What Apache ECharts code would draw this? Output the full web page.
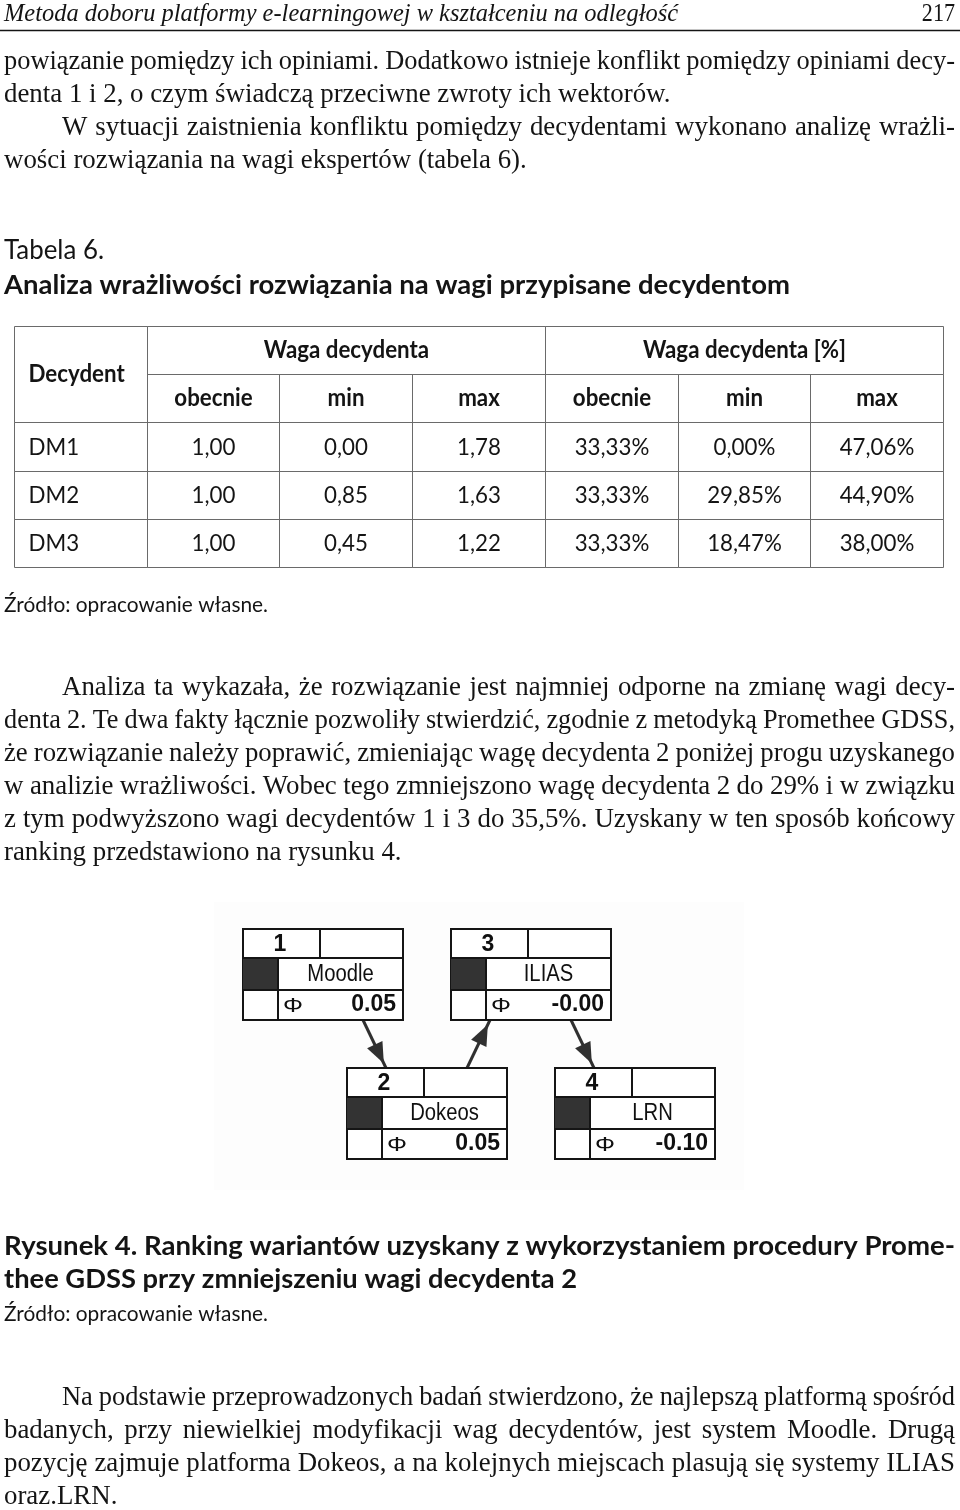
<!DOCTYPE html>
<html><head><meta charset="utf-8">
<script src="https://cdn.jsdelivr.net/npm/echarts@6/dist/echarts.min.js"></script>
<style>html,body{margin:0;padding:0;background:#fff}#main{width:960px;height:1510px}</style>
</head><body><div id="main"></div>
<script>
// ---------- content ----------
const runningHead = 'Metoda doboru platformy e-learningowej w kształceniu na odległość';
const pageNumber = '217';
const paragraph1 = [
  'powiązanie pomiędzy ich opiniami. Dodatkowo istnieje konflikt pomiędzy opiniami decy-',
  'denta 1 i 2, o czym świadczą przeciwne zwroty ich wektorów.',
  'W sytuacji zaistnienia konfliktu pomiędzy decydentami wykonano analizę wrażli-',
  'wości rozwiązania na wagi ekspertów (tabela 6).'
];
const tableLabel = 'Tabela 6.';
const tableTitle = 'Analiza wrażliwości rozwiązania na wagi przypisane decydentom';
const sourceNote = 'Źródło: opracowanie własne.';
const paragraph2 = [
  'Analiza ta wykazała, że rozwiązanie jest najmniej odporne na zmianę wagi decy-',
  'denta 2. Te dwa fakty łącznie pozwoliły stwierdzić, zgodnie z metodyką Promethee GDSS,',
  'że rozwiązanie należy poprawić, zmieniając wagę decydenta 2 poniżej progu uzyskanego',
  'w analizie wrażliwości. Wobec tego zmniejszono wagę decydenta 2 do 29% i w związku',
  'z tym podwyższono wagi decydentów 1 i 3 do 35,5%. Uzyskany w ten sposób końcowy',
  'ranking przedstawiono na rysunku 4.'
];
const figureCaption = [
  'Rysunek 4. Ranking wariantów uzyskany z wykorzystaniem procedury Prome-',
  'thee GDSS przy zmniejszeniu wagi decydenta 2'
];
const paragraph3 = [
  'Na podstawie przeprowadzonych badań stwierdzono, że najlepszą platformą spośród',
  'badanych, przy niewielkiej modyfikacji wag decydentów, jest system Moodle. Drugą',
  'pozycję zajmuje platforma Dokeos, a na kolejnych miejscach plasują się systemy ILIAS',
  'oraz.LRN.'
];

// table data
const rowHeader = 'Decydent';
const groupHeaders = ['Waga decydenta', 'Waga decydenta [%]'];
const subHeaders = ['obecnie', 'min', 'max', 'obecnie', 'min', 'max'];
const decisionMakers = ['DM1', 'DM2', 'DM3'];
const weightCurrent = [1.00, 1.00, 1.00];
const weightMin = [0.00, 0.85, 0.45];
const weightMax = [1.78, 1.63, 1.22];
const shareCurrent = [33.33, 33.33, 33.33];
const shareMin = [0.00, 29.85, 18.47];
const shareMax = [47.06, 44.90, 38.00];

// ranking diagram data
const rankPositions = [1, 2, 3, 4];
const platforms = ['Moodle', 'Dokeos', 'ILIAS', 'LRN'];
const phiLabels = ['0.05', '0.05', '-0.00', '-0.10'];
const rankingLinks = [[1, 2], [2, 3], [3, 4]];

// ---------- helpers ----------
const INK = '#141414';
const SERIF = '"Liberation Serif", serif';
const SANS = 'Lato, "Liberation Sans", sans-serif';
const mctx = document.createElement('canvas').getContext('2d');
function measure(text, font) { mctx.font = font; return mctx.measureText(text).width; }
function txt(text, x, y, font, extra, align) {
  const a = align || 'left';
  return Object.assign({ type: 'text', x: x, y: y, silent: true,
    style: { text: text, font: font, fill: INK, textAlign: a, align: a,
             textVerticalAlign: 'middle', verticalAlign: 'middle' } }, extra || {});
}
function fitLine(text, x0, x1, y, font) {
  const w = measure(text, font);
  return txt(text, x0, y, font, { scaleX: (x1 - x0) / w });
}
const fmt = v => v.toFixed(2).replace('.', ',');
const pct = v => v.toFixed(2).replace('.', ',') + '%';

// body paragraphs: words placed with a common condensation and justified spacing
const BODY_FONT = '27px ' + SERIF;
const condense = (
  661 / measure(paragraph1[1], BODY_FONT) +
  516 / measure(paragraph1[3], BODY_FONT) +
  406 / measure(paragraph2[5], BODY_FONT)) / 3;
const spaceRaw = measure(' ', BODY_FONT);
function paragraphLines(lines, layout) {
  const els = [];
  lines.forEach((line, i) => {
    const L = layout[i];
    const words = line.split(' ');
    const raw = words.map(w => measure(w, BODY_FONT));
    const rawTotal = raw.reduce((a, b) => a + b, 0);
    let s = condense;
    let gap = spaceRaw * s;
    if (L.justify && words.length > 1) {
      const target = L.x1 - L.x0;
      const minGap = spaceRaw * condense * 0.9;
      if (rawTotal * s + minGap * (words.length - 1) > target) {
        s = (target - minGap * (words.length - 1)) / rawTotal;
      }
      gap = (target - rawTotal * s) / (words.length - 1);
    }
    let x = L.x0;
    words.forEach((w, k) => {
      els.push(txt(w, x, L.y, BODY_FONT, { scaleX: s }));
      x += raw[k] * s + gap;
    });
  });
  return els;
}

const graphics = [];
// faint backdrop of the embedded screenshot
graphics.push({ type: 'rect', silent: true, z: -10, shape: { x: 214, y: 902, width: 530, height: 288 }, style: { fill: '#fdfdfd' } });
const headFont = 'italic 26px ' + SERIF;
graphics.push(fitLine(runningHead, 4, 678, 14, headFont));
graphics.push(txt(pageNumber, 955, 14, '26px ' + SERIF, { scaleX: 0.85 }, 'right'));
graphics.push({ type: 'line', silent: true, shape: { x1: 0, y1: 30.5, x2: 960, y2: 30.5 }, style: { stroke: INK, lineWidth: 1.6 } });

graphics.push(...paragraphLines(paragraph1, [
  { x0: 4, x1: 955, y: 62, justify: true },
  { x0: 4, y: 95 },
  { x0: 62, x1: 955, y: 128, justify: true },
  { x0: 4, y: 161 }
]));
graphics.push(fitLine(tableLabel, 4, 104, 251, '26px ' + SANS));
graphics.push(fitLine(tableTitle, 4, 790, 285, 'bold 27px ' + SANS));
graphics.push(fitLine(sourceNote, 4, 268, 605, '21px ' + SANS));
graphics.push(...paragraphLines(paragraph2, [
  { x0: 62, x1: 955, y: 688, justify: true },
  { x0: 4, x1: 955, y: 721, justify: true },
  { x0: 4, x1: 955, y: 754, justify: true },
  { x0: 4, x1: 955, y: 787, justify: true },
  { x0: 4, x1: 955, y: 820, justify: true },
  { x0: 4, y: 853 }
]));
graphics.push(fitLine(figureCaption[0], 4, 955, 1246, 'bold 27px ' + SANS));
graphics.push(fitLine(figureCaption[1], 4, 577, 1279, 'bold 27px ' + SANS));
graphics.push(fitLine(sourceNote, 4, 268, 1314, '21px ' + SANS));
graphics.push(...paragraphLines(paragraph3, [
  { x0: 62, x1: 955, y: 1398, justify: true },
  { x0: 4, x1: 955, y: 1431, justify: true },
  { x0: 4, x1: 955, y: 1464, justify: true },
  { x0: 4, y: 1497 }
]));

// ---------- table cells ----------
const cells = [];
cells.push({ c: 0, r: 0, cs: 1, rs: 2, text: rowHeader, bold: true, left: true });
groupHeaders.forEach((t, i) => cells.push({ c: 1 + i * 3, r: 0, cs: 3, rs: 1, text: t, bold: true }));
subHeaders.forEach((t, i) => cells.push({ c: 1 + i, r: 1, cs: 1, rs: 1, text: t, bold: true }));
decisionMakers.forEach((dm, i) => {
  const row = 2 + i;
  cells.push({ c: 0, r: row, cs: 1, rs: 1, text: dm, left: true });
  [fmt(weightCurrent[i]), fmt(weightMin[i]), fmt(weightMax[i]),
   pct(shareCurrent[i]), pct(shareMin[i]), pct(shareMax[i])]
    .forEach((t, j) => cells.push({ c: 1 + j, r: row, cs: 1, rs: 1, text: t }));
});

const tableSeries = {
  type: 'custom', xAxisIndex: 0, yAxisIndex: 0, clip: false, silent: true,
  data: cells.map(cl => [cl.c, cl.r, cl.cs, cl.rs]),
  renderItem: function (params, api) {
    const cl = cells[params.dataIndex];
    const p0 = api.coord([cl.c, cl.r]);
    const p1 = api.coord([cl.c + cl.cs, cl.r + cl.rs]);
    const x0 = Math.round(p0[0]) + 0.5, y0 = Math.round(p0[1]) + 0.5;
    const x1 = Math.round(p1[0]) + 0.5, y1 = Math.round(p1[1]) + 0.5;
    const font = (cl.bold ? 'bold ' : '') + '24px ' + SANS;
    const tx = cl.left ? x0 + 14 : (x0 + x1) / 2;
    const al = cl.left ? 'left' : 'center';
    return { type: 'group', children: [
      { type: 'rect', shape: { x: x0, y: y0, width: x1 - x0, height: y1 - y0 },
        style: { fill: 'none', stroke: '#6a6a6a', lineWidth: 1 } },
      { type: 'text', x: tx, y: (y0 + y1) / 2, scaleX: 0.93,
        style: { text: cl.text, font: font, fill: INK, x: 0, y: 0,
          textAlign: al, align: al, textVerticalAlign: 'middle', verticalAlign: 'middle' } }
    ] };
  }
};

// ---------- ranking diagram ----------
const BOX_W = 160, BOX_H = 91, ROW1 = 29, ROW2 = 32, SWATCH = 35;
const levelOf = r => (r - 1) % 2;
const boxSeries = {
  type: 'custom', xAxisIndex: 1, yAxisIndex: 1, clip: false, silent: true, z: 3,
  data: rankPositions.map(r => [r, levelOf(r)]),
  renderItem: function (params, api) {
    const i = params.dataIndex;
    const p = api.coord([api.value(0), api.value(1)]);
    const x = Math.round(p[0]), y = Math.round(p[1]);
    const stroke = '#151515', lw = 2;
    const ln = (a, b, c, d) => ({ type: 'line', shape: { x1: a, y1: b, x2: c, y2: d }, style: { stroke: stroke, lineWidth: lw } });
    const t = (s, tx, ty, font, align, sx) => ({ type: 'text', x: tx, y: ty, scaleX: sx || 1,
      style: { text: s, x: 0, y: 0, font: font, fill: '#101010',
      textAlign: align, align: align, textVerticalAlign: 'middle', verticalAlign: 'middle' } });
    return { type: 'group', children: [
      { type: 'rect', shape: { x: x, y: y, width: BOX_W, height: BOX_H }, style: { fill: '#fff', stroke: stroke, lineWidth: lw } },
      { type: 'rect', shape: { x: x, y: y + ROW1, width: SWATCH, height: ROW2 }, style: { fill: '#333' } },
      ln(x, y + ROW1, x + BOX_W, y + ROW1),
      ln(x, y + ROW1 + ROW2, x + BOX_W, y + ROW1 + ROW2),
      ln(x + 77, y, x + 77, y + ROW1),
      ln(x + SWATCH, y + ROW1, x + SWATCH, y + BOX_H),
      t(String(rankPositions[i]), x + 37, y + ROW1 / 2 + 1, 'bold 23px "Liberation Sans", sans-serif', 'center'),
      t(platforms[i], x + SWATCH + (BOX_W - SWATCH) / 2, y + ROW1 + ROW2 / 2 + 1, '23px "Liberation Sans", sans-serif', 'center', 0.88),
      t('\u03A6', x + 50, y + ROW1 + ROW2 + 16, '20px "Liberation Sans", sans-serif', 'center', 1.25),
      t(phiLabels[i], x + BOX_W - 7, y + ROW1 + ROW2 + 15, 'bold 23px "Liberation Sans", sans-serif', 'right')
    ] };
  }
};

const linkSeries = {
  type: 'custom', xAxisIndex: 1, yAxisIndex: 1, clip: false, silent: true, z: 2,
  data: rankingLinks.map(l => [l[0], l[1]]),
  renderItem: function (params, api) {
    const link = rankingLinks[params.dataIndex];
    const from = link[0], to = link[1];
    const leftRank = Math.min(from, to);
    const anchor = (r) => {
      const p = api.coord([r, levelOf(r)]);
      const px = Math.round(p[0]) + (r === leftRank ? 120 : 39);
      const py = Math.round(p[1]) + (levelOf(r) === 0 ? BOX_H : 0);
      return [px, py];
    };
    const a = anchor(from), b = anchor(to);
    const dx = b[0] - a[0], dy = b[1] - a[1], len = Math.sqrt(dx * dx + dy * dy);
    const ux = dx / len, uy = dy / len;
    const tip = [b[0] - ux * 5, b[1] - uy * 5];
    const base = [tip[0] - ux * 21, tip[1] - uy * 21];
    const hw = 8.5;
    const color = '#303030';
    return { type: 'group', children: [
      { type: 'line', shape: { x1: a[0], y1: a[1], x2: b[0], y2: b[1] }, style: { stroke: color, lineWidth: 3 } },
      { type: 'polygon', shape: { points: [tip, [base[0] - uy * hw, base[1] + ux * hw], [base[0] + uy * hw, base[1] - ux * hw]] },
        style: { fill: color } }
    ] };
  }
};

const chart = echarts.init(document.getElementById('main'), null, { renderer: 'canvas', width: 960, height: 1510 });
chart.setOption({
  backgroundColor: '#ffffff',
  animation: false,
  grid: [
    { left: 14, top: 326, width: 929, height: 241 },
    { left: 243, top: 929, width: 312, height: 139 }
  ],
  xAxis: [
    { type: 'value', gridIndex: 0, min: 0, max: 7, show: false },
    { type: 'value', gridIndex: 1, min: 1, max: 4, show: false }
  ],
  yAxis: [
    { type: 'value', gridIndex: 0, min: 0, max: 5, inverse: true, show: false },
    { type: 'value', gridIndex: 1, min: 0, max: 1, inverse: true, show: false }
  ],
  series: [tableSeries, linkSeries, boxSeries],
  graphic: { elements: graphics }
});
</script></body></html>
